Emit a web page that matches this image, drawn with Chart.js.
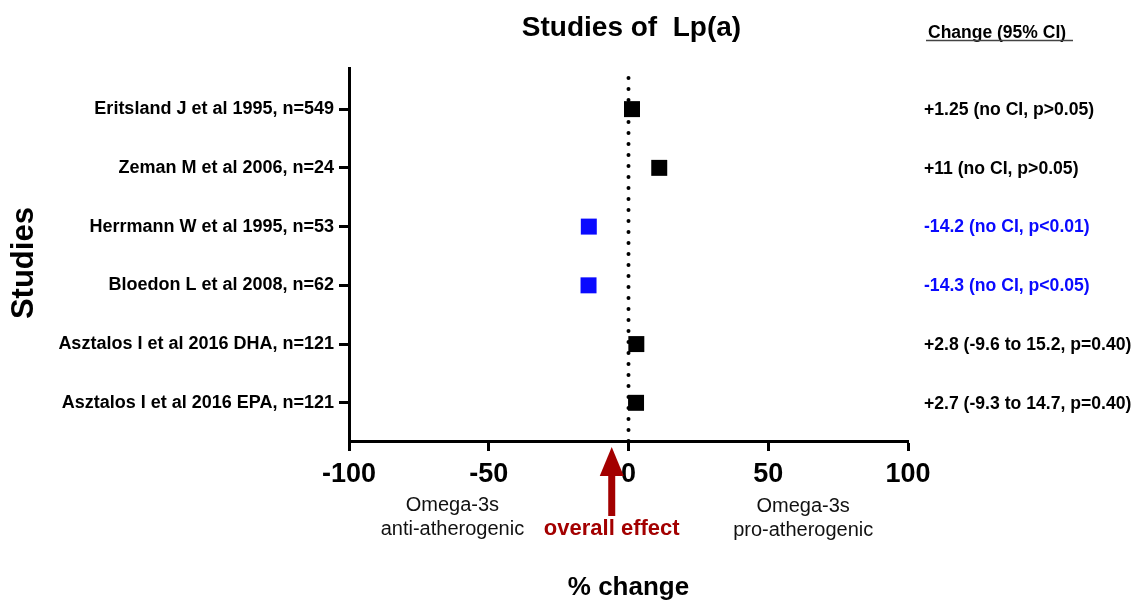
<!DOCTYPE html>
<html><head><meta charset="utf-8">
<script src="https://cdn.jsdelivr.net/npm/chart.js@4.4.0/dist/chart.umd.min.js"></script>
<style>html,body{margin:0;padding:0;background:#fff;}#wrap{width:1138px;height:603px;}</style>
</head><body><div id="wrap"><canvas id="c" width="1138" height="603"></canvas></div>
<script>
const studies = ['Eritsland J et al 1995, n=549', 'Zeman M et al 2006, n=24', 'Herrmann W et al 1995, n=53', 'Bloedon L et al 2008, n=62', 'Asztalos I et al 2016 DHA, n=121', 'Asztalos I et al 2016 EPA, n=121'];
const changes = [1.25, 11, -14.2, -14.3, 2.8, 2.7];
const significant = [false, false, true, true, false, false];
const ciTexts = ['+1.25 (no CI, p>0.05)', '+11 (no CI, p>0.05)', '-14.2 (no CI, p<0.01)', '-14.3 (no CI, p<0.05)', '+2.8 (-9.6 to 15.2, p=0.40)', '+2.7 (-9.3 to 14.7, p=0.40)'];
const xTickValues = [-100, -50, 0, 50, 100];
const xTickLabels = ['-100', '-50', '0', '50', '100'];
const overallEffect = [-6];

const FONT = '"Liberation Sans", Arial, Helvetica, sans-serif';
Chart.defaults.font.family = FONT;
const BLUE = '#0a0aff', BLACK = '#000000', RED = '#a30000';
const colors = significant.map(s => s ? BLUE : BLACK);
const rowOf = i => studies.length - i;

const annot = {
  id: 'annot',
  beforeDatasetsDraw(chart) {
    const {ctx, chartArea: ca, scales: {x}} = chart;
    const x0 = x.getPixelForValue(0);
    ctx.save();
    ctx.strokeStyle = '#000'; ctx.lineWidth = 4; ctx.lineCap = 'round';
    ctx.setLineDash([0, 11]);
    ctx.beginPath(); ctx.moveTo(x0, ca.bottom); ctx.lineTo(x0, ca.top + 1); ctx.stroke();
    ctx.restore();
  },
  afterDraw(chart) {
    const {ctx, chartArea: ca, scales: {x, y}} = chart;
    ctx.save();
    ctx.textBaseline = 'middle';
    // title
    ctx.fillStyle = '#000'; ctx.textAlign = 'center';
    ctx.font = 'bold 28px ' + FONT;
    ctx.fillText('Studies of  Lp(a)', (ca.left + ca.right) / 2 + 3, 28);
    // column header
    ctx.textAlign = 'left';
    ctx.font = 'bold 17.5px ' + FONT;
    ctx.fillText('Change (95% CI)', ca.right + 20, 33);
    ctx.strokeStyle = '#444'; ctx.lineWidth = 1.5;
    ctx.beginPath(); ctx.moveTo(ca.right + 18, 40.5); ctx.lineTo(ca.right + 165, 40.5); ctx.stroke();
    // right texts
    ctx.font = 'bold 17.6px ' + FONT;
    ciTexts.forEach((t, i) => {
      ctx.fillStyle = colors[i];
      ctx.fillText(t, ca.right + 16, y.getPixelForValue(rowOf(i)) + 1);
    });
    // omega labels
    ctx.fillStyle = '#111'; ctx.textAlign = 'center';
    ctx.font = '20px ' + FONT;
    const xl = x.getPixelForValue(-63), xr = x.getPixelForValue(62.5);
    ctx.fillText('Omega-3s', xl, 505);
    ctx.fillText('anti-atherogenic', xl, 529);
    ctx.fillText('Omega-3s', xr, 506);
    ctx.fillText('pro-atherogenic', xr, 530);
    // arrow
    const xa = x.getPixelForValue(overallEffect[0]);
    ctx.fillStyle = RED;
    ctx.beginPath();
    ctx.moveTo(xa, ca.bottom + 6);
    ctx.lineTo(xa + 12, ca.bottom + 35);
    ctx.lineTo(xa - 12, ca.bottom + 35);
    ctx.closePath(); ctx.fill();
    ctx.fillRect(xa - 3.5, ca.bottom + 34, 7, 41);
    ctx.font = 'bold 22px ' + FONT;
    ctx.fillText('overall effect', xa, 529);
    ctx.restore();
  }
};

new Chart(document.getElementById('c'), {
  type: 'scatter',
  data: {
    datasets: [{
      data: changes.map((v, i) => ({x: v, y: rowOf(i)})),
      pointStyle: 'rect',
      pointRadius: 11.3,
      pointHoverRadius: 11.3,
      backgroundColor: colors,
      borderColor: colors,
      borderWidth: 0
    }]
  },
  options: {
    responsive: false,
    animation: false,
    events: [],
    layout: {padding: {top: 68, right: 230, bottom: 0, left: 0}},
    plugins: {legend: {display: false}, tooltip: {enabled: false}, title: {display: false}},
    scales: {
      x: {
        type: 'linear', min: -100, max: 100,
        afterBuildTicks: s => { s.ticks = xTickValues.map(v => ({value: v})); },
        afterFit: s => { s.height = 162; },
        ticks: {
          callback: v => xTickLabels[xTickValues.indexOf(v)],
          font: {size: 27, weight: 'bold'}, color: '#000', padding: 7,
          maxRotation: 0, autoSkip: false
        },
        grid: {drawOnChartArea: false, drawTicks: true, tickLength: 10, tickWidth: 3, tickColor: '#000'},
        border: {display: true, width: 3, color: '#000'},
        title: {display: true, text: '% change', color: '#000', font: {size: 26, weight: 'bold', lineHeight: 1.2}, padding: {top: 0, bottom: 0}}
      },
      y: {
        type: 'linear', min: 0.35, max: 6.7,
        afterBuildTicks: s => { s.ticks = studies.map((t, i) => ({value: rowOf(i)})); },
        afterFit: s => { s.width = 349; },
        ticks: {
          callback: v => studies[studies.length - v],
          font: {size: 18, weight: 'bold'}, color: '#000', padding: 5, autoSkip: false
        },
        grid: {drawOnChartArea: false, drawTicks: true, tickLength: 10, tickWidth: 3, tickColor: '#000'},
        border: {display: true, width: 3, color: '#000'},
        title: {display: true, text: 'Studies  ', color: '#000', font: {size: 31, weight: 'bold'}, padding: {top: 6, bottom: 0}}
      }
    }
  },
  plugins: [annot]
});
</script>
</body></html>
